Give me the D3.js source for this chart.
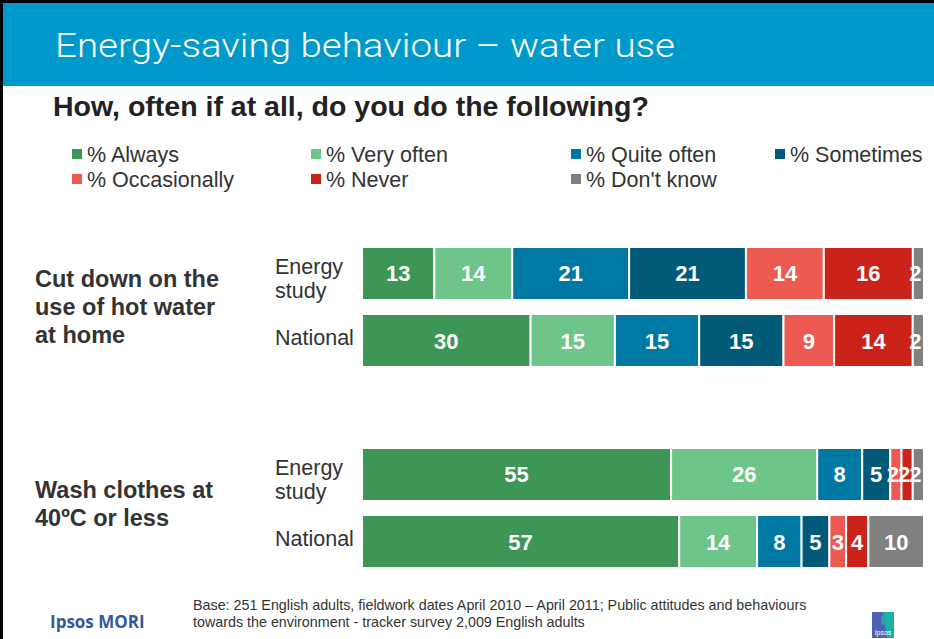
<!DOCTYPE html>
<html>
<head>
<meta charset="utf-8">
<script src="https://cdn.jsdelivr.net/npm/d3@7"></script>
<style>
  html, body { margin: 0; padding: 0; background: #fff; }
  svg { display: block; }
</style>
</head>
<body>
<svg id="chart" width="934" height="639"></svg>
<script>
// Survey answers, one stacked bar per sample within each behaviour
const series = ["% Always", "% Very often", "% Quite often", "% Sometimes", "% Occasionally", "% Never", "% Don't know"];
const seriesColors = ["#3d9656", "#6dc58a", "#0078a4", "#005a78", "#ec5a52", "#cb2219", "#808080"];
const groups = ["Cut down on the use of hot water at home", "Wash clothes at 40ºC or less"];
const groupLines = [["Cut down on the", "use of hot water", "at home"], ["Wash clothes at", "40ºC or less"]];
const samples = ["Energy study", "National"];
const sampleLines = [["Energy", "study"], ["National"]];
const hotWaterEnergy = [13, 14, 21, 21, 14, 16, 2];
const hotWaterNational = [30, 15, 15, 15, 9, 14, 2];
const washEnergy = [55, 26, 8, 5, 2, 2, 2];
const washNational = [57, 14, 8, 5, 3, 4, 10];
const values = [[hotWaterEnergy, hotWaterNational], [washEnergy, washNational]];

const svg = d3.select("#chart");
const W = 934, H = 639;
const sans = "'Liberation Sans', Arial, sans-serif";

// Frame and header band
svg.append("rect").attr("x", 0).attr("y", 0).attr("width", W).attr("height", H).attr("fill", "#fff");
svg.append("rect").attr("x", 3).attr("y", 3).attr("width", W - 3).attr("height", 83).attr("fill", "#0099cc");
svg.append("line").attr("x1", 1.5).attr("x2", 1.5).attr("y1", 0).attr("y2", H).attr("stroke", "#000").attr("stroke-width", 3);
svg.append("line").attr("x1", 0).attr("x2", W).attr("y1", 1.5).attr("y2", 1.5).attr("stroke", "#000").attr("stroke-width", 3);

svg.append("text")
  .attr("x", 55).attr("y", 57)
  .attr("font-family", "Roboto, 'Open Sans', sans-serif")
  .attr("font-weight", 300)
  .attr("font-size", 34)
  .attr("fill", "#fff")
  .attr("textLength", 620)
  .attr("lengthAdjust", "spacingAndGlyphs")
  .text("Energy-saving behaviour – water use");

svg.append("text")
  .attr("x", 53).attr("y", 116)
  .attr("font-family", sans)
  .attr("font-weight", "bold")
  .attr("font-size", 28.5)
  .attr("fill", "#222")
  .text("How, often if at all, do you do the following?");

// Legend
const legendCols = [72, 311, 571, 775];
const legendRows = [155, 180];
const legend = svg.append("g").attr("font-family", sans).attr("font-size", 21.5).attr("fill", "#333");
series.forEach((s, i) => {
  const col = i < 4 ? i : i - 4;
  const row = i < 4 ? 0 : 1;
  const g = legend.append("g").attr("transform", `translate(${legendCols[col]},${legendRows[row]})`);
  g.append("rect").attr("x", 0).attr("y", -6).attr("width", 10).attr("height", 10).attr("fill", seriesColors[i]);
  g.append("text").attr("x", 15).attr("y", 7).text(s);
});

// Scales
const x = d3.scaleLinear().domain([0, 1]).range([362, 924]);
const yGroup = d3.scaleBand().domain(groups).range([247, 649]).paddingInner(0);
const ySample = d3.scaleBand().domain(samples).range([0, 120]).paddingInner(0.209);
const color = d3.scaleOrdinal().domain(series).range(seriesColors);

groups.forEach((grp, gi) => {
  const gy = yGroup(grp);
  // Behaviour label
  const gl = svg.append("text")
    .attr("font-family", sans)
    .attr("font-weight", "bold").attr("font-size", 23.5).attr("fill", "#333");
  const nLines = groupLines[gi].length;
  const gCenter = gy + ySample.step() * 0.5 + ySample.bandwidth() / 2;
  const shift = nLines === 3 ? 8 : 4;
  groupLines[gi].forEach((ln, li) => {
    gl.append("tspan").attr("x", 35)
      .attr("y", gCenter + shift + (li - (nLines - 1) / 2) * 28)
      .text(ln);
  });

  samples.forEach((smp, si) => {
    const vals = values[gi][si];
    const total = d3.sum(vals);
    const stacked = [];
    let acc = 0;
    vals.forEach((v, k) => { stacked.push({ k, v, x0: acc / total, x1: (acc + v) / total }); acc += v; });
    const by = gy + ySample(smp);
    const bh = ySample.bandwidth();
    const row = svg.append("g");
    row.selectAll("rect").data(stacked).join("rect")
      .attr("x", d => x(d.x0)).attr("y", by)
      .attr("width", d => x(d.x1) - x(d.x0)).attr("height", bh)
      .attr("fill", d => color(series[d.k]))
      .attr("stroke", "#fff").attr("stroke-width", 2);
    row.selectAll("text").data(stacked).join("text")
      .attr("x", d => (x(d.x0) + x(d.x1)) / 2 - (d.v <= 2 ? 3 : 0))
      .attr("y", by + bh / 2 + 8)
      .attr("text-anchor", "middle")
      .attr("font-family", sans)
      .attr("font-weight", "bold").attr("font-size", 22).attr("fill", "#fff")
      .text(d => d.v);

    // Sample label
    const sl = svg.append("text")
      .attr("font-family", sans)
      .attr("font-size", 21.5).attr("fill", "#333");
    const lines = sampleLines[si];
    const base = by + bh / 2 + (lines.length > 1 ? 0.5 : 4.5);
    lines.forEach((ln, li) => {
      sl.append("tspan").attr("x", 275)
        .attr("y", base + li * 24)
        .text(ln);
    });
  });
});

// Footer
svg.append("text").attr("x", 50).attr("y", 628)
  .attr("font-family", "'Open Sans', 'Liberation Sans', sans-serif")
  .attr("font-weight", "bold").attr("font-size", 17).attr("fill", "#34589a")
  .text("Ipsos MORI");
const note = svg.append("text")
  .attr("font-family", sans)
  .attr("font-size", 14.3).attr("fill", "#333");
note.append("tspan").attr("x", 193).attr("y", 610)
  .text("Base: 251 English adults, fieldwork dates April 2010 – April 2011; Public attitudes and behaviours");
note.append("tspan").attr("x", 193).attr("y", 627)
  .text("towards the environment - tracker survey 2,009 English adults");

// Small brand mark
const logo = svg.append("g").attr("transform", "translate(872,612)");
logo.append("rect").attr("width", 22).attr("height", 26).attr("fill", "#5060b4");
logo.append("path").attr("d", "M11,0 H22 V26 H15 Z").attr("fill", "#19b2a4");
logo.append("ellipse").attr("cx", 11.5).attr("cy", 8).attr("rx", 2.5).attr("ry", 5).attr("fill", "#2f9fb0");
logo.append("text").attr("x", 11).attr("y", 23).attr("text-anchor", "middle")
  .attr("font-family", sans).attr("font-size", 7).attr("fill", "#fff").text("Ipsos");
</script>
</body>
</html>
